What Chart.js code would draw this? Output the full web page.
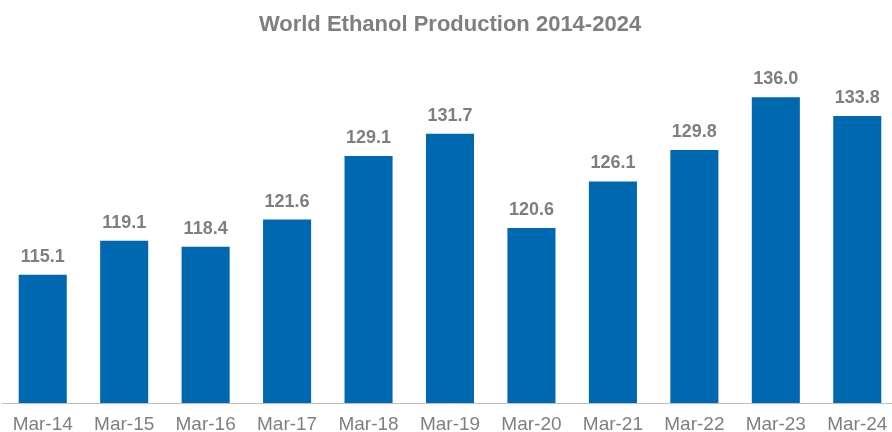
<!DOCTYPE html>
<html>
<head>
<meta charset="utf-8">
<title>World Ethanol Production 2014-2024</title>
<script src="https://cdn.jsdelivr.net/npm/chart.js@4.4.1/dist/chart.umd.min.js"></script>
<style>
  html, body { margin: 0; padding: 0; background: #fff; overflow: hidden; }
  .wrap { width: 892px; height: 432px; overflow: hidden; }
  .box { width: 900px; height: 446px; }
</style>
</head>
<body>
<div class="wrap">
  <div class="box"><canvas id="myChart"></canvas></div>
</div>
<script>
const labels = [
  'Mar-14', 'Mar-15', 'Mar-16', 'Mar-17', 'Mar-18', 'Mar-19',
  'Mar-20', 'Mar-21', 'Mar-22', 'Mar-23', 'Mar-24'
];

const production = [115.1, 119.1, 118.4, 121.6, 129.1, 131.7, 120.6, 126.1, 129.8, 136.0, 133.8];

const yMin = 100;
const yMax = 140;

const grey = '#7F7F7F';
const blue = '#0067B1';

Chart.defaults.font.family = 'Arial, "Liberation Sans", sans-serif';
Chart.defaults.color = grey;

// value labels above each bar
const valueLabels = {
  id: 'valueLabels',
  afterDatasetsDraw(chart) {
    const ctx = chart.ctx;
    const meta = chart.getDatasetMeta(0);
    ctx.save();
    ctx.font = 'bold 18px Arial, "Liberation Sans", sans-serif';
    ctx.fillStyle = grey;
    ctx.textAlign = 'center';
    ctx.textBaseline = 'alphabetic';
    meta.data.forEach((bar, i) => {
      ctx.fillText(production[i].toFixed(1), bar.x, bar.y - 13);
    });
    ctx.restore();
  }
};

const data = {
  labels: labels,
  datasets: [{
    label: 'Production',
    data: production,
    backgroundColor: blue,
    barPercentage: 0.59,
    categoryPercentage: 1
  }]
};

const config = {
  type: 'bar',
  data: data,
  options: {
    responsive: true,
    maintainAspectRatio: false,
    animation: false,
    layout: {
      padding: { left: 2, right: 2, top: 0, bottom: 0 }
    },
    plugins: {
      legend: { display: false },
      tooltip: { enabled: false },
      title: {
        display: true,
        text: 'World Ethanol Production 2014-2024',
        color: grey,
        font: { size: 22, weight: 'bold', lineHeight: 1.2 },
        padding: { top: 12, bottom: 25 }
      }
    },
    scales: {
      x: {
        grid: { display: false, drawTicks: false },
        border: { display: true, color: '#BFBFBF', width: 1 },
        ticks: {
          color: grey,
          font: { size: 19, lineHeight: 1 },
          padding: 12,
          autoSkip: false,
          maxRotation: 0
        }
      },
      y: {
        display: false,
        min: yMin,
        max: yMax
      }
    }
  },
  plugins: [valueLabels]
};

const myChart = new Chart(document.getElementById('myChart'), config);
</script>
</body>
</html>
